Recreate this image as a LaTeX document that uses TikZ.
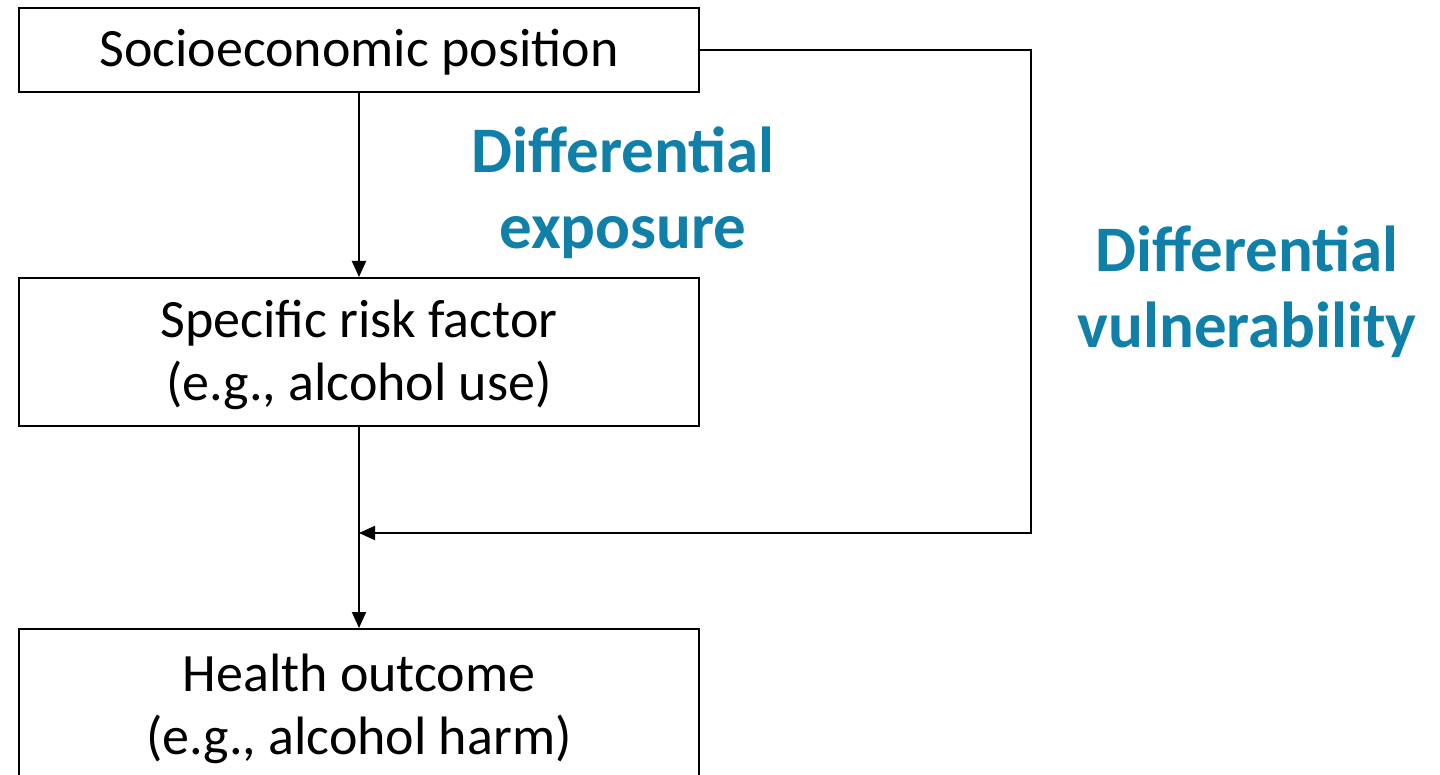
\documentclass[tikz,border=0pt]{standalone}
\usepackage{fontspec}
\setmainfont{Carlito}
\usetikzlibrary{arrows.meta}
\definecolor{diffblue}{RGB}{16,128,168}
\newcommand{\boxtext}[1]{\raisebox{-2pt}[\height][\depth]{\begin{tabular}{@{}c@{}}#1\end{tabular}}}
\tikzset{
  box/.style={draw=black, line width=1pt, minimum width=340pt, inner sep=0pt, align=center,
    font=\fontsize{27}{31.5}\selectfont},
  conn/.style={line width=1pt, -{Triangle[length=8pt,width=7pt]}},
  lbl/.style={text=diffblue, align=center, inner sep=0pt, font=\bfseries\fontsize{32.5}{38}\selectfont}
}
\begin{document}
\begin{tikzpicture}[x=0.5pt,y=-0.5pt]
\useasboundingbox (0,0) rectangle (1440,775);
\clip (0,0) rectangle (1440,775);
\node[box, minimum height=42pt] (sep) at (359,50) {\boxtext{Socioeconomic position}};
\node[box, minimum height=74pt] (risk) at (359,352) {\boxtext{Specific risk factor\\(e.g., alcohol use)}};
\node[box, minimum height=77pt] (out) at (359,706) {\boxtext{Health outcome\\(e.g., alcohol harm)}};
\coordinate (corner) at (1031,50);
\coordinate (junc) at (359,533);
\draw[conn] (sep.south) -- (risk.north);
\draw[conn] (risk.south) -- (out.north);
\draw[conn] (sep.east) -- (corner) |- (junc);
\node[lbl] (exp) at (623,193) {Differential\\exposure};
\node[lbl] (vul) at (1247,292) {Differential\\vulnerability};
\end{tikzpicture}
\end{document}
